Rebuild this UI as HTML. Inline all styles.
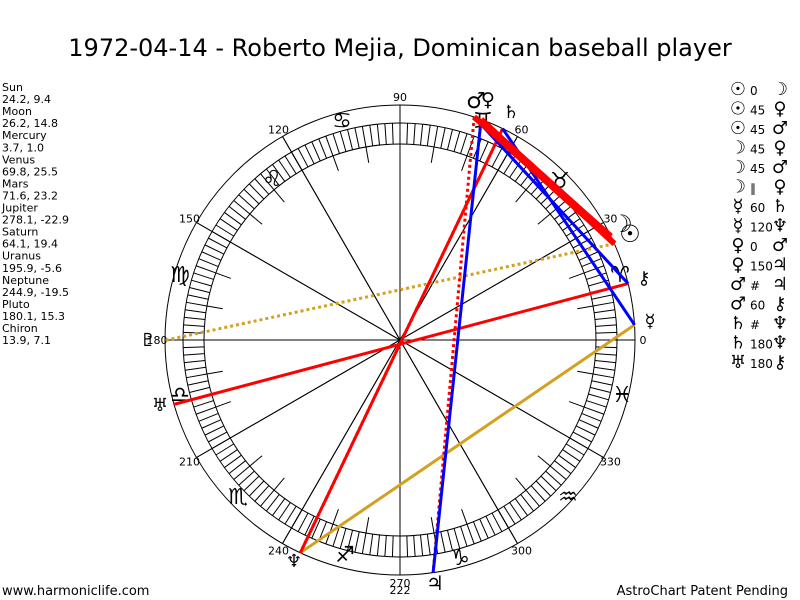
<!DOCTYPE html>
<html><head><meta charset="utf-8"><style>
body{margin:0;background:#fff;width:800px;height:600px;overflow:hidden;font-family:"Liberation Sans","DejaVu Sans",sans-serif}
svg{position:absolute;left:0;top:0}
</style></head><body>
<svg id="s" width="800" height="600" xmlns="http://www.w3.org/2000/svg" font-family="'DejaVu Sans','Liberation Sans',sans-serif">
<text x="400" y="56" font-size="24" text-anchor="middle" font-family="'DejaVu Sans',sans-serif">1972-04-14 - Roberto Mejia, Dominican baseball player</text>
<text x="2" y="595" font-size="13">www.harmoniclife.com</text>
<text x="788" y="595" font-size="13" text-anchor="end">AstroChart Patent Pending</text>
<g id="g" fill="none" stroke="#000" stroke-width="1"></g>
<g id="t" font-size="11"></g>
</svg>
<script>
var S=document.getElementById('s'),G=document.getElementById('g'),T=document.getElementById('t');
var cx=400,cy=340,ns='http://www.w3.org/2000/svg';
function el(p,tag,a,txt){var e=document.createElementNS(ns,tag);for(var k in a)e.setAttribute(k,a[k]);if(txt!=null)e.textContent=txt;p.appendChild(e);return e;}
function P(a,r){a=a*Math.PI/180;return [cx+r*Math.cos(a),cy-r*Math.sin(a)];}
el(G,'circle',{cx:cx,cy:cy,r:235});
el(G,'circle',{cx:cx,cy:cy,r:217});
el(G,'circle',{cx:cx,cy:cy,r:196});
for(var a=0;a<360;a+=2){var p=P(a,196),q=P(a,217);el(G,'line',{x1:p[0],y1:p[1],x2:q[0],y2:q[1]});}
for(var a=0;a<360;a+=10){if(a%30==0){var p=P(a,235),q=P(a+180,235);el(G,'line',{x1:p[0],y1:p[1],x2:q[0],y2:q[1]});}else{var p=P(a,196),q=P(a,180);el(G,'line',{x1:p[0],y1:p[1],x2:q[0],y2:q[1]});}}
for(var a=0;a<360;a+=30){var p=P(a,243);el(T,'text',{x:p[0],y:p[1]+4,'text-anchor':'middle'},''+a);}
el(T,'text',{x:400,y:594,'text-anchor':'middle'},'222');
var sg=[['♈',620,282],['♉',560,188],['♊',483,128],['♋',342,128],['♌',272,186],['♍',180,282],['♎',180,402],['♏',238,504],['♐',345,562],['♑',460,565],['♒',568,504],['♓',622,402]];
sg.forEach(function(s){el(S,'text',{x:s[1],y:s[2],'font-size':22,'text-anchor':'middle','font-weight':'bold'},s[0]);});
var L={su:24.2,mo:26.2,me:3.7,ve:69.8,ma:71.6,ju:278.1,sa:64.1,ur:195.9,ne:244.9,pl:180.1,ch:13.9};
function ln(a,b,col,w,dash){var p=P(L[a],235),q=P(L[b],235);var o={x1:p[0],y1:p[1],x2:q[0],y2:q[1],stroke:col,'stroke-width':w};if(dash)o['stroke-dasharray']=dash;el(S,'line',o);}
ln('su','pl','#d4a020',3,'3,3');
ln('me','ne','#d4a020',3);
ln('ur','ch','red',3);
ln('sa','ne','red',3);
ln('sa','ne','red',3,'3,3');
ln('ma','ju','red',3,'3,3');
ln('ve','ju','blue',3);
ln('me','sa','blue',3);
ln('ma','ch','blue',3);
ln('su','ve','red',6);ln('mo','ma','red',6);ln('su','ma','red',5);ln('mo','ve','red',5);
var pg=[['☉',630,242,24],['☽',622,232,24],['☿',650,327,18],['♀',488,106,19],['♂',476,108,22],['♄',511,118,18],['♃',435,590,20],['♅',160,411,18],['♆',294,567,18],['♇',148,346,18],['⚷',644,284,18]];
pg.forEach(function(s){el(S,'text',{x:s[1],y:s[2],'font-size':s[3],'text-anchor':'middle','font-weight':'bold'},s[0]);});
var lst=['Sun','24.2, 9.4','Moon','26.2, 14.8','Mercury','3.7, 1.0','Venus','69.8, 25.5','Mars','71.6, 23.2','Jupiter','278.1, -22.9','Saturn','64.1, 19.4','Uranus','195.9, -5.6','Neptune','244.9, -19.5','Pluto','180.1, 15.3','Chiron','13.9, 7.1'];
lst.forEach(function(s,i){el(S,'text',{x:2,y:91+i*12.05,'font-size':11,'font-family':"'DejaVu Sans',sans-serif"},s);});
var asp=[['☉','0','☽'],['☉','45','♀'],['☉','45','♂'],['☽','45','♀'],['☽','45','♂'],['☽','∥','♀'],['☿','60','♄'],['☿','120','♆'],['♀','0','♂'],['♀','150','♃'],['♂','#','♃'],['♂','60','⚷'],['♄','#','♆'],['♄','180','♆'],['♅','180','⚷']];
asp.forEach(function(r,i){var y=95+i*19.5;el(S,'text',{x:738,y:y,'font-size':18,'text-anchor':'middle','font-weight':'bold'},r[0]);el(S,'text',{x:750,y:y,'font-size':12},r[1]);el(S,'text',{x:780,y:y,'font-size':18,'text-anchor':'middle','font-weight':'bold'},r[2]);});
</script>
</body></html>
